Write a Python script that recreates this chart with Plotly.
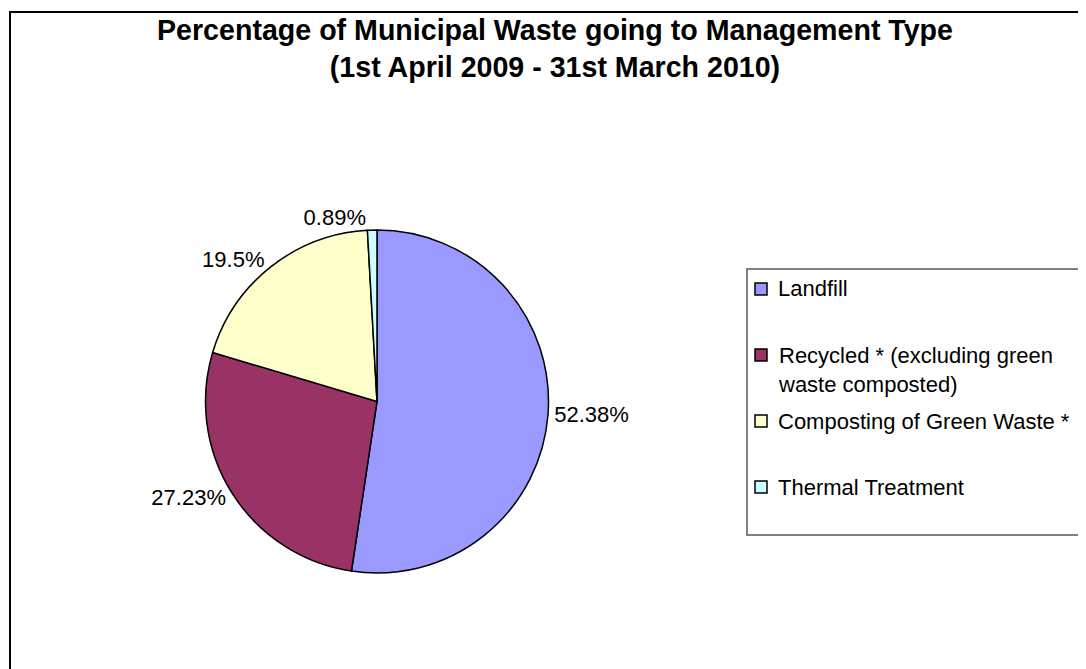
import plotly.graph_objects as go

categories = ["Landfill", "Recycled * (excluding green waste composted)",
              "Composting of Green Waste *", "Thermal Treatment"]
legend_labels = ["Landfill", "Recycled * (excluding green<br>waste composted)",
                 "Composting of Green Waste *", "Thermal Treatment"]
values = [52.38, 27.23, 19.5, 0.89]
colors = ["#9999FF", "#993366", "#FFFFCC", "#CCFFFF"]
title_lines = ["Percentage of Municipal Waste going to Management Type",
               "(1st April 2009 - 31st March 2010)"]

# page body has an 8px margin; work in page pixel coordinates
OFF = 8
W, H = 1086 - OFF, 669 - OFF
FONT = "Arial, Liberation Sans, sans-serif"

def px_x(x):
    return (x - OFF) / W

def px_y(y):
    return 1 - (y - OFF) / H

fig = go.Figure()
fig.add_trace(go.Pie(
    labels=categories,
    values=values,
    text=[f"{v}%" for v in values],
    textinfo="text",
    textposition="outside",
    sort=False,
    direction="clockwise",
    rotation=0,
    marker=dict(colors=colors, line=dict(color="black", width=1.5)),
    textfont=dict(family=FONT, size=22, color="black"),
    showlegend=False,
    hoverinfo="label+percent",
    domain=dict(x=[px_x(205.5), px_x(548.5)], y=[px_y(573), px_y(230)]),
))

shapes = [
    # outer chart border
    dict(type="rect", xref="paper", yref="paper",
         x0=px_x(10), x1=px_x(1110), y0=px_y(700), y1=px_y(12),
         line=dict(color="black", width=2), fillcolor="rgba(0,0,0,0)"),
    # legend frame
    dict(type="rect", xref="paper", yref="paper",
         x0=px_x(747), x1=px_x(1110), y0=px_y(535), y1=px_y(269),
         line=dict(color="#808080", width=2), fillcolor="white"),
]
annotations = []
item_centers = [289, 370, 421, 487]
swatch_centers = [289, 355, 421, 487]
for lab, col, yc, ys in zip(legend_labels, colors, item_centers, swatch_centers):
    shapes.append(dict(type="rect", xref="paper", yref="paper",
                       x0=px_x(755), x1=px_x(767), y0=px_y(ys + 6), y1=px_y(ys - 6),
                       line=dict(color="black", width=1.5), fillcolor=col))
    annotations.append(dict(xref="paper", yref="paper", x=px_x(776), y=px_y(yc),
                            xanchor="left", yanchor="middle", align="left",
                            showarrow=False, text=lab,
                            font=dict(family=FONT, size=22, color="black")))

fig.update_layout(
    width=W, height=H,
    margin=dict(l=0, r=0, t=0, b=0, autoexpand=False),
    paper_bgcolor="white",
    plot_bgcolor="white",
    title=dict(text="<b>" + "<br>".join(title_lines) + "</b>",
               x=px_x(555), xanchor="center", y=px_y(40), yanchor="top",
               font=dict(family=FONT, size=28.6, color="black")),
    shapes=shapes,
    annotations=annotations,
    showlegend=False,
)

fig.write_html("out.html")
